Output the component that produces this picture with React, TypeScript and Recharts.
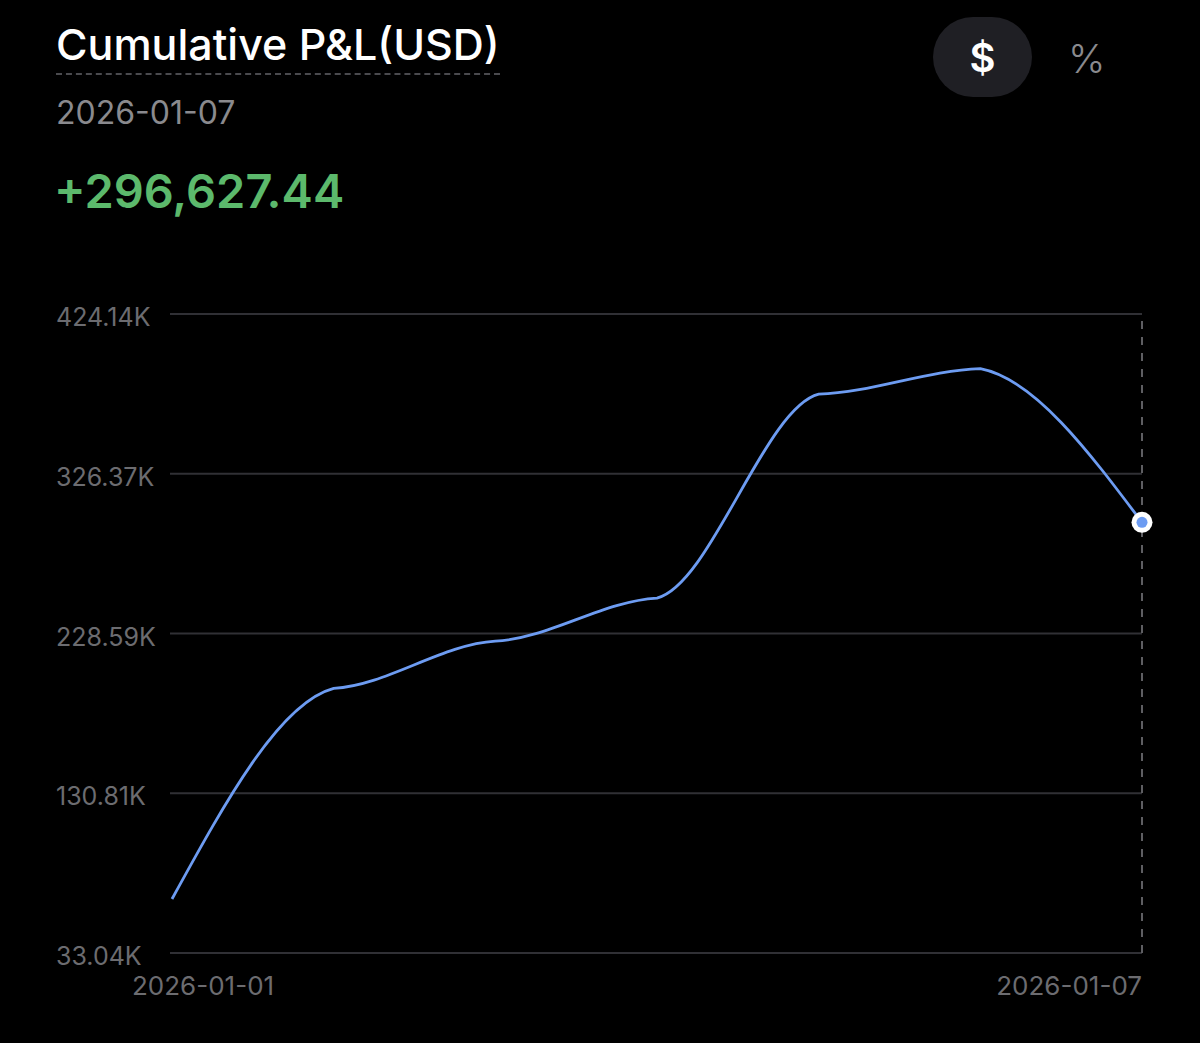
import React from 'react';
import { LineChart, Line, XAxis, YAxis, CartesianGrid, ReferenceLine } from 'recharts';

const dates = ['2026-01-01', '2026-01-02', '2026-01-03', '2026-01-04', '2026-01-05', '2026-01-06', '2026-01-07'];
const pnl = [66090, 195000, 223900, 250300, 375100, 390700, 296627.44];
const yTicks = [33040, 130810, 228590, 326370, 424140];
const xTicks = ['2026-01-01', '2026-01-07'];

const data = dates.map((d, i) => ({ date: d, pnl: pnl[i] }));

const FONT = 'Inter, "Noto Sans", sans-serif';
const BLUE = '#6d9cf2';
const GREY = '#6c6c70';

const fmtK = (v: number) => (v / 1000).toFixed(2) + 'K';

// hermite curve with small tangents at inner points (flat-ish joints like the app chart)
const softCurve = (k: number) => (context: any) => {
  let pts: number[][] = [];
  return {
    areaStart() {},
    areaEnd() {},
    lineStart() {
      pts = [];
    },
    point(x: number, y: number) {
      pts.push([+x, +y]);
    },
    lineEnd() {
      const n = pts.length;
      if (!n) return;
      context.moveTo(pts[0][0], pts[0][1]);
      for (let i = 0; i < n - 1; i++) {
        const [x0, y0] = pts[i];
        const [x1, y1] = pts[i + 1];
        const h = x1 - x0;
        const s = (y1 - y0) / h;
        const t0 = i === 0 ? ((3 - k) / 2) * s : k * s;
        const t1 = i === n - 2 ? ((3 - k) / 2) * s : k * s;
        context.bezierCurveTo(x0 + h / 3, y0 + (t0 * h) / 3, x1 - h / 3, y1 - (t1 * h) / 3, x1, y1);
      }
    },
  };
};

const YTick = (props: any) => {
  const { y, payload } = props;
  return (
    <text x={56} y={y} dy={12} fill={GREY} fontSize={25} fontFamily={FONT} textAnchor="start">
      {fmtK(payload.value)}
    </text>
  );
};

const XTick = (props: any) => {
  const { x, y, payload, index } = props;
  const first = index === 0;
  return (
    <text
      x={first ? x - 40 : x}
      y={y}
      dy={34}
      fill={GREY}
      fontSize={26}
      fontFamily={FONT}
      textAnchor={first ? 'start' : 'end'}
    >
      {payload.value}
    </text>
  );
};

const EndDot = (props: any) => {
  const { cx, cy, index } = props;
  if (index !== data.length - 1) return <g key={index} />;
  return (
    <g key={index}>
      <circle cx={cx} cy={cy} r={10.5} fill="#ffffff" />
      <circle cx={cx} cy={cy} r={5.5} fill={BLUE} />
    </g>
  );
};

export default function App() {
  return (
    <div style={{ position: 'absolute', left: 0, top: 0, width: 1200, height: 1043, background: '#000', fontFamily: FONT, overflow: 'hidden' }}>
      <div style={{ position: 'absolute', left: 56, top: 17, color: '#fff', fontSize: 43, fontWeight: 500, lineHeight: '54px' }}>
        Cumulative P&amp;L(USD)
      </div>
      <div style={{ position: 'absolute', left: 56, top: 73, width: 444, borderTop: '2px dashed #4a4a4e' }} />
      <div style={{ position: 'absolute', left: 56, top: 93, color: '#8a8a8e', fontSize: 32, lineHeight: '40px' }}>2026-01-07</div>
      <div style={{ position: 'absolute', left: 54, top: 162, color: '#5cb96c', fontSize: 47, fontWeight: 600, lineHeight: '58px' }}>
        +296,627.44
      </div>
      <div style={{ position: 'absolute', left: 933, top: 17, width: 99, height: 80, borderRadius: 40, background: '#1f1f24', color: '#fff', fontSize: 40, fontWeight: 600, display: 'flex', alignItems: 'center', justifyContent: 'center' }}>
        $
      </div>
      <div style={{ position: 'absolute', left: 1068, top: 33, color: '#8a8a8e', fontSize: 40, fontWeight: 300, lineHeight: '52px' }}>%</div>

      <div style={{ position: 'absolute', left: 0, top: 0 }}>
        <LineChart width={1200} height={1043} data={data} margin={{ top: 314, right: 58, bottom: 60, left: 56 }}>
          <CartesianGrid vertical={false} stroke="#303035" strokeWidth={2} />
          <XAxis dataKey="date" height={30} ticks={xTicks} tick={<XTick />} axisLine={false} tickLine={false} interval={0} padding={{ left: 2, right: 0 }} />
          <YAxis width={114} domain={[33040, 424140]} ticks={yTicks} tick={<YTick />} axisLine={false} tickLine={false} />
          <ReferenceLine x="2026-01-07" stroke="#5e5e62" strokeWidth={2} strokeDasharray="8 8" />
          <Line type={softCurve(0.2) as any} dataKey="pnl" stroke={BLUE} strokeWidth={2.8} dot={<EndDot />} activeDot={false} isAnimationActive={false} />
        </LineChart>
      </div>
    </div>
  );
}
